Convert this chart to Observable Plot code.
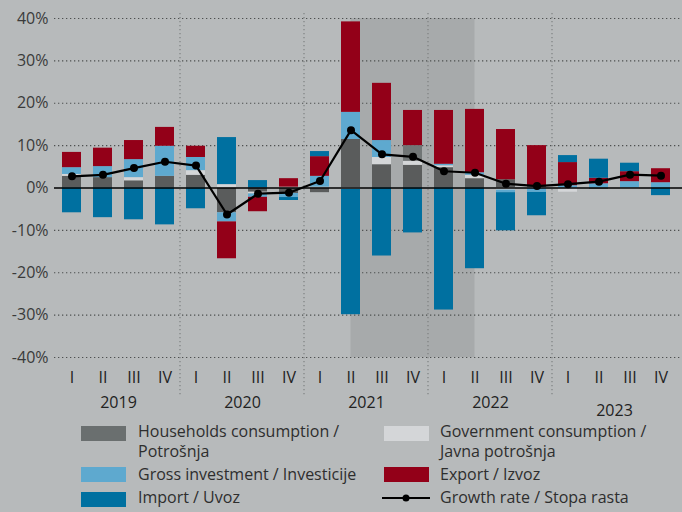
<!DOCTYPE html>
<html>
<head>
<meta charset="utf-8">
<script src="https://cdn.jsdelivr.net/npm/d3@7"></script>
<script src="https://cdn.jsdelivr.net/npm/@observablehq/plot@0.6"></script>
<style>
  html, body { margin: 0; padding: 0; background: #b7babb; }
  body { width: 682px; height: 512px; overflow: hidden; font-family: "Open Sans", sans-serif; }
  #chart svg { display: block; }
  #legend { position: relative; width: 682px; height: 92px; color: #2e2e2e; font-size: 16px; }
  .sw { position: absolute; width: 45px; height: 15px; }
  .lt { position: absolute; line-height: 19px; white-space: nowrap; }
</style>
</head>
<body>
<div id="chart"></div>
<div id="legend"></div>
<script>
// ---- data ----
const years = ["2019", "2020", "2021", "2022", "2023"];
const quarterLabels = ["I", "II", "III", "IV"];
const households = [2.75, 2.45, 1.7, 2.75, 3.0, -5.85, -1.0, -1.3, -1.1, 11.45, 5.5, 5.35, 4.8, 2.2, 1.95, 0.5, 0, -0.3, 0, 0];
const government = [0.45, 0, 0.75, 0, 1.1, 0.8, -0.4, 0.2, 0.2, -0.3, 1.7, 0.95, 0.45, 0.8, -0.5, -0.15, -1.0, 0, -0.3, 0];
const investment = [1.6, 2.6, 4.25, 7.1, 3.1, -2.15, -0.8, -0.95, 2.55, 6.4, 4.0, 3.7, 0.35, 0.6, -0.6, -0.9, 0.55, 1.0, 1.5, 1.25];
const exports_ = [3.6, 4.35, 4.5, 4.45, 2.65, -8.7, -3.4, 2.0, 4.65, 21.35, 13.5, 8.3, 12.7, 14.95, 11.85, 9.5, 5.45, 1.3, 2.35, 3.3];
const imports = [-5.85, -7.0, -7.5, -8.7, -4.9, 11.1, 1.75, -0.7, 1.2, -29.6, -16.05, -10.6, -28.8, -19.05, -9.0, -5.5, 1.65, 4.5, 2.0, -1.8];
const growth = [2.75, 3.1, 4.7, 6.2, 5.3, -6.25, -1.35, -1.1, 1.65, 13.65, 7.95, 7.35, 3.95, 3.6, 1.0, 0.45, 0.9, 1.5, 3.15, 2.9];
const yTicks = [-40, -30, -20, -10, 0, 10, 20, 30, 40];
const shadedFrom = "2021-II";
const shadedTo = "2022-II";
const greyInvestmentQuarter = "2021-IV";

const seriesNames = ["Households consumption / Potrošnja", "Government consumption / Javna potrošnja", "Gross investment / Investicije", "Export / Izvoz", "Import / Uvoz"];
const seriesValues = [households, government, investment, exports_, imports];
const seriesColors = ["#5a5c5c", "#d4d6d8", "#5ea9cf", "#930018", "#0070a0"];
const legendSwatchColors = ["#6a6f6f", "#d4d6d8", "#5ea9cf", "#930018", "#0070a0"];
const growthName = "Growth rate / Stopa rasta";

// ---- build tables ----
const keys = [];
years.forEach(y => quarterLabels.forEach(q => keys.push(`${y}-${q}`)));
const quarterRows = keys.map((k, i) => ({key: k, year: years[Math.floor(i / 4)], q: quarterLabels[i % 4]}));
const long = [];
seriesNames.forEach((s, si) => keys.forEach((k, i) => long.push({key: k, series: s, value: seriesValues[si][i],
  color: (si === 2 && k === greyInvestmentQuarter) ? "#717676" : seriesColors[si]})));
const growthRows = keys.map((k, i) => ({key: k, g: growth[i]}));
const yearRows = years.map(y => ({key: `${y}-II`, year: y}));

const shading = (index, {x, y}) => {
  const g = d3.create("svg:g");
  const x1 = x(shadedFrom) + x.bandwidth() / 2;
  const x2 = x(shadedTo) + x.bandwidth() / 2;
  g.append("rect").attr("x", x1).attr("width", x2 - x1)
    .attr("y", y(40)).attr("height", y(-40) - y(40)).attr("fill", "#a7aaab");
  return g.node();
};
const separators = (index, {x, y}) => {
  const g = d3.create("svg:g");
  const gap = (x.step() - x.bandwidth()) / 2;
  years.slice(1).forEach(yr => {
    const px = x(`${yr}-I`) - gap;
    g.append("line").attr("x1", px).attr("x2", px).attr("y1", y(41.2)).attr("y2", y(-49.3))
      .attr("stroke", "#7d8080").attr("stroke-width", 1.2).attr("stroke-dasharray", "1.3,2.7");
  });
  return g.node();
};

const chart = Plot.plot({
  width: 682,
  height: 420,
  marginLeft: 54,
  marginRight: 0,
  marginTop: 18,
  marginBottom: 63,
  style: {background: "#b7babb", color: "#333", fontFamily: "'Open Sans', sans-serif", fontSize: "16px", overflow: "visible"},
  x: {type: "band", domain: keys, paddingInner: 0.39, paddingOuter: 0.324, align: 0.41, axis: null},
  y: {domain: [-40, 40], axis: null},
  color: {type: "identity"},
  marks: [
    shading,
    Plot.ruleY(yTicks.filter(d => d !== 0), {stroke: "#4e5050", strokeWidth: 1.2, strokeDasharray: "1.3,2.7"}),
    separators,
    Plot.axisY({ticks: yTicks, tickFormat: d => `${d}%`, tickSize: 0, tickPadding: 6, fontSize: 16, fill: "#3a3a3a"}),
    Plot.barY(long, {x: "key", y: "value", z: "series", order: seriesNames, fill: "color"}),
    Plot.ruleY([0], {stroke: "#000", strokeWidth: 1.4}),
    Plot.lineY(growthRows, {x: "key", y: "g", stroke: "#000", strokeWidth: 2.2}),
    Plot.dot(growthRows, {x: "key", y: "g", r: 4, fill: "#000"}),
    Plot.text(quarterRows, {x: "key", text: "q", frameAnchor: "bottom", lineAnchor: "middle", dy: 20, fontSize: 16, fill: "#222"}),
    Plot.text(yearRows.slice(0, 4), {x: "key", text: "year", frameAnchor: "bottom", lineAnchor: "middle", dy: 45, dx: 15.5, fontSize: 16, fill: "#222"}),
    Plot.text(yearRows.slice(4), {x: "key", text: "year", frameAnchor: "bottom", lineAnchor: "middle", dy: 53, dx: 15.5, fontSize: 16, fill: "#222"})
  ]
});
document.getElementById("chart").appendChild(chart);

// ---- legend ----
const legend = document.getElementById("legend");
const items = [
  {name: seriesNames[0], color: legendSwatchColors[0], sx: 81, sy: 6, tx: 138, ty: 3, twoLine: true},
  {name: seriesNames[1], color: legendSwatchColors[1], sx: 384, sy: 6, tx: 440, ty: 3, twoLine: true},
  {name: seriesNames[2], color: legendSwatchColors[2], sx: 81, sy: 47, tx: 138, ty: 45},
  {name: seriesNames[3], color: legendSwatchColors[3], sx: 384, sy: 47, tx: 440, ty: 45},
  {name: seriesNames[4], color: legendSwatchColors[4], sx: 81, sy: 72, tx: 138, ty: 68}
];
function addText(str, left, top) {
  const t = document.createElement("div");
  t.className = "lt";
  t.style.left = left + "px"; t.style.top = top + "px";
  t.textContent = str;
  legend.appendChild(t);
}
items.forEach(it => {
  const sw = document.createElement("div");
  sw.className = "sw";
  sw.style.left = it.sx + "px"; sw.style.top = it.sy + "px"; sw.style.background = it.color;
  legend.appendChild(sw);
  if (it.twoLine) {
    const parts = it.name.split(" / ");
    addText(parts[0] + " /", it.tx, it.ty - 1);
    addText(parts[1], it.tx, it.ty + 19);
  } else addText(it.name, it.tx, it.ty);
});
const gsw = document.createElementNS("http://www.w3.org/2000/svg", "svg");
gsw.setAttribute("width", 50); gsw.setAttribute("height", 14);
gsw.style.position = "absolute"; gsw.style.left = "381px"; gsw.style.top = "71px";
gsw.innerHTML = '<line x1="1" x2="49" y1="7" y2="7" stroke="#000" stroke-width="2.2"/><circle cx="25" cy="7" r="3.5" fill="#000"/>';
legend.appendChild(gsw);
addText(growthName, 440, 68);
</script>
</body>
</html>
